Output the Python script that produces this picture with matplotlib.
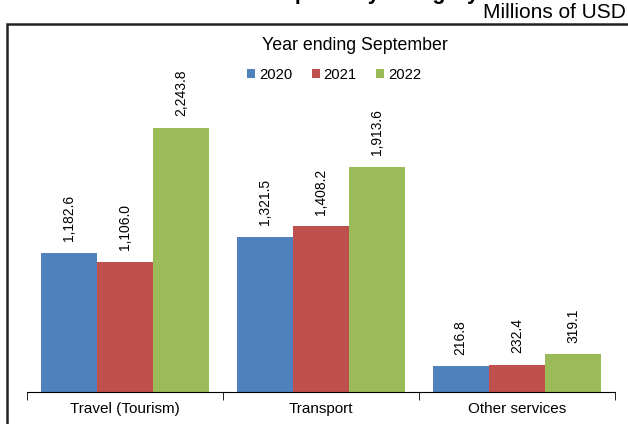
import numpy as np
import matplotlib
matplotlib.use('Agg')
import matplotlib.pyplot as plt
from matplotlib.patches import Rectangle

categories = ['Travel (Tourism)', 'Transport', 'Other services']
years = ['2020', '2021', '2022']
v2020 = [1182.6, 1321.5, 216.8]
v2021 = [1106.0, 1408.2, 232.4]
v2022 = [2243.8, 1913.6, 319.1]
colors = ['#4F81BD', '#C0504D', '#9BBB59']

plt.rcParams['font.family'] = ['Liberation Sans', 'DejaVu Sans']

fig = plt.figure(figsize=(6.28, 4.24), dpi=100)
ax = fig.add_axes([27 / 628, 32 / 424, 588 / 628, 353 / 424])

x = np.arange(len(categories))
w = 0.287
for i, (vals, yr) in enumerate(zip([v2020, v2021, v2022], years)):
    pos = x + (i - 1) * w
    bars = ax.bar(pos, vals, w, color=colors[i], label=yr)
    for b, v in zip(bars, vals):
        ax.text(b.get_x() + b.get_width() / 2, v + 100, f'{v:,.1f}',
                rotation=90, ha='center', va='bottom', fontsize=10)

ax.set_xlim(-0.5, 2.5)
ax.set_ylim(0, 3000)
ax.set_xticks(x)
ax.set_xticklabels(categories, fontsize=11)
ax.set_xticks([-0.5, 0.5, 1.5, 2.5], minor=True)
ax.tick_params(axis='x', which='major', length=0, pad=7)
ax.tick_params(axis='x', which='minor', length=6, direction='out')
ax.set_yticks([])
for s in ['left', 'right', 'top']:
    ax.spines[s].set_visible(False)
ax.spines['bottom'].set_linewidth(0.8)

ax.legend(loc='center', bbox_to_anchor=((334 - 27) / 588, (392 - 75) / 353), ncol=3,
          frameon=False, fontsize=10.7, handlelength=0.55, handleheight=0.55,
          handletextpad=0.25, columnspacing=1.3)
fig.text(355 / 628, 1 - 45 / 424, 'Year ending September', ha='center', va='center',
         fontsize=12.8)

# outer frame (partly cropped)
fig.patches.append(Rectangle((7 / 628, -0.05), 1.0, (424 - 24) / 424 + 0.05,
                             transform=fig.transFigure, fill=False,
                             edgecolor='#222222', linewidth=1.8))

fig.text(626 / 628, 1 - 13 / 424, 'Millions of USD', ha='right', va='center', fontsize=15)
fig.text(479 / 628, 1 + 1 / 424, 'Services Exports by Category', ha='right', va='baseline',
         fontsize=15.5, fontweight='bold')

fig.savefig('out.png', dpi=100)
